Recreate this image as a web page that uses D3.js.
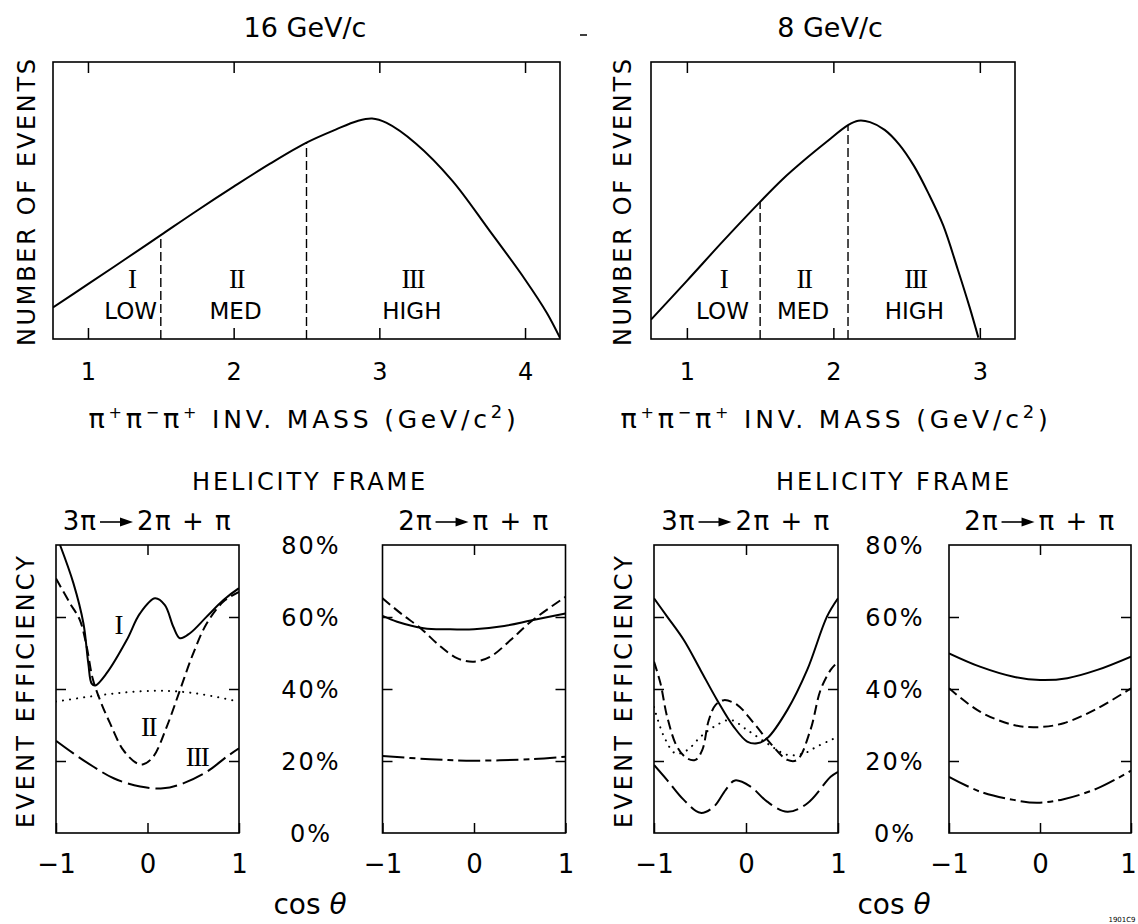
<!DOCTYPE html>
<html>
<head>
<meta charset="utf-8">
<script src="https://cdn.jsdelivr.net/npm/d3@7"></script>
<style>
  body { margin: 0; background: #fff; }
  svg text { font-family: "DejaVu Sans", "Liberation Sans", sans-serif; fill: #000; }
  .axis text { font-size: 24px; }
  .axis line { stroke: #000; stroke-width: 1.5; }
  .roman { font-family: "Liberation Serif", "DejaVu Serif", serif; font-size: 27px; letter-spacing: -1.5px; }
  .frame { fill: none; stroke: #000; stroke-width: 1.6; }
  .curve { fill: none; stroke: #000; stroke-width: 2; }
</style>
</head>
<body>
<svg id="fig" width="1138" height="924"></svg>
<script>
// ---------- top row: pi+ pi- pi+ invariant mass spectra (arbitrary units)
const massTicks16 = [1, 2, 3, 4];
const massTicks8 = [1, 2, 3];
const mass16   = [0.76, 1.0, 1.25, 1.5, 1.75, 2.0, 2.25, 2.5, 2.7, 2.85, 2.95, 3.05, 3.25, 3.5, 3.75, 4.0, 4.15, 4.24];
const events16 = [11.4, 19.8, 28.6, 37.5, 46.4, 55, 63.3, 70.9, 75.6, 78.7, 79.6, 78, 70.6, 57.2, 39.6, 21.5, 9.4, 0.4];
const mass8    = [0.755, 1.0, 1.25, 1.5, 1.65, 1.8, 1.95, 2.1, 2.17, 2.25, 2.35, 2.45, 2.55, 2.65, 2.75, 2.85, 2.93, 2.99];
const events8  = [7, 21, 35.5, 49.5, 57.5, 64.5, 71, 77.2, 78.8, 78.3, 75.5, 70.2, 62.5, 52.5, 41, 25, 11.5, 0.5];
const cuts16 = [1.5, 2.5];
const cuts8 = [1.5, 2.1];
const regionNumerals = ['I', 'II', 'III'];
const regionNames = ['LOW', 'MED', 'HIGH'];
const regionAt16 = [1.30, 2.02, 3.23];
const regionAt8 = [1.25, 1.80, 2.56];

// ---------- bottom row: event efficiency (%) vs cos theta, helicity frame
const effTicks = [0, 20, 40, 60, 80];
const cosTicks = [-1, 0, 1];

// 16 GeV/c, 3pi -> 2pi + pi
const e16a_I_x   = [-0.956, -0.81, -0.70, -0.647, -0.61, -0.57, -0.446, -0.227, -0.082, 0.082, 0.19, 0.282, 0.355, 0.464, 0.647, 0.83, 1.0];
const e16a_I_y   = [80, 69.4, 58.2, 47.1, 41.5, 41, 44.4, 53.6, 61, 65.2, 63.3, 57.3, 54.1, 55.5, 60.1, 64.7, 68];
const e16a_II_x  = [-1, -0.847, -0.74, -0.665, -0.6, -0.52, -0.41, -0.264, -0.118, -0.046, 0.063, 0.21, 0.355, 0.5, 0.647, 0.83, 1.0];
const e16a_II_y  = [70.7, 63.8, 59.2, 51.8, 43, 37, 30.5, 23, 19.4, 19.1, 21.2, 29.5, 39.7, 49.9, 58.2, 64.3, 67];
const e16a_all_x = [-1, -0.63, -0.27, 0.1, 0.39, 0.647, 1.0];
const e16a_all_y = [36.5, 37.9, 39, 39.5, 39.2, 38.3, 36.5];
const e16a_III_x = [-1, -0.81, -0.59, -0.37, -0.08, 0.17, 0.39, 0.647, 0.866, 1.0];
const e16a_III_y = [25.6, 22.1, 18.4, 15.2, 12.9, 12.4, 13.8, 17, 21.2, 23.5];

// 16 GeV/c, 2pi -> pi + pi
const e16b_I_x   = [-1, -0.84, -0.55, -0.29, 0, 0.33, 0.62, 1];
const e16b_I_y   = [60.3, 58.7, 56.9, 56.6, 56.6, 57.5, 59, 61];
const e16b_II_x  = [-1, -0.80, -0.585, -0.366, -0.18, 0, 0.18, 0.40, 0.62, 1];
const e16b_II_y  = [65.2, 61, 56.9, 51.8, 48.5, 47.6, 49, 53.6, 58.7, 65.6];
const e16b_III_x = [-1, -0.48, 0, 0.62, 1];
const e16b_III_y = [21.4, 20.5, 20.1, 20.5, 21.2];

// 8 GeV/c, 3pi -> 2pi + pi
const e8a_I_x   = [-1, -0.857, -0.676, -0.495, -0.313, -0.133, 0.013, 0.12, 0.23, 0.45, 0.665, 0.88, 1];
const e8a_I_y   = [65.2, 60.1, 53.6, 45.3, 36.9, 29.5, 25.4, 24.9, 26.3, 34.2, 45.3, 60.1, 65.2];
const e8a_II_x  = [-1, -0.93, -0.857, -0.75, -0.64, -0.55, -0.476, -0.404, -0.33, -0.24, -0.096, 0.085, 0.266, 0.45, 0.556, 0.70, 0.81, 0.92, 1];
const e8a_II_y  = [47.6, 41.6, 32.3, 24, 20.7, 20.3, 23, 31.4, 35.6, 36.9, 35.6, 30.5, 24.9, 20.3, 20.3, 28.6, 39.7, 45.3, 47.6];
const e8a_all_x = [-1, -0.89, -0.766, -0.64, -0.495, -0.35, -0.168, 0.013, 0.23, 0.45, 0.63, 0.77, 0.92, 1];
const e8a_all_y = [35, 26.7, 22.1, 23, 26.7, 29.5, 31.4, 28.6, 24.9, 21.7, 22.1, 24, 25.8, 26.7];
const e8a_III_x = [-1, -0.857, -0.676, -0.495, -0.35, -0.22, -0.12, 0.05, 0.23, 0.45, 0.665, 0.92, 1];
const e8a_III_y = [18.9, 14.7, 9.2, 5.6, 7.3, 12, 14.6, 12.9, 8.7, 5.9, 8.2, 15.6, 17];

// 8 GeV/c, 2pi -> pi + pi
const e8b_I_x   = [-1, -0.66, -0.29, 0, 0.3, 0.63, 1];
const e8b_I_y   = [49.9, 46.2, 43.4, 42.5, 43, 45.3, 49];
const e8b_II_x  = [-1, -0.66, -0.29, -0.03, 0.26, 0.63, 1];
const e8b_II_y  = [40.2, 33.7, 30, 29.4, 30.5, 34.6, 40.2];
const e8b_III_x = [-1, -0.66, -0.29, -0.03, 0.26, 0.63, 1];
const e8b_III_y = [15.6, 11.5, 9.2, 8.4, 9.4, 12.4, 17.3];

// line styles
const SOLID = null;
const DASHED = '10,5';
const DOTTED = '0.1,7';
const LONGDASH = '22,6';
const DASHDOT = '22,5,6,5';

const svg = d3.select('#fig');
let clipCount = 0;

// spread letters so a text occupies a given width
function fitWidth(sel, width) {
  var node = sel.node();
  var len = node.getComputedTextLength();
  var n = node.getNumberOfChars();
  sel.attr('letter-spacing', (width - len) / n);
}

function clipRect(x, y, w, h) {
  var id = 'clip' + (clipCount++);
  svg.append('clipPath').attr('id', id)
    .append('rect').attr('x', x).attr('y', y).attr('width', w).attr('height', h);
  return 'url(#' + id + ')';
}

function verticalLabel(cx, cy, length, size, txt) {
  svg.append('text')
    .attr('transform', 'translate(' + cx + ',' + cy + ') rotate(-90)')
    .attr('text-anchor', 'middle')
    .attr('dy', '0.36em')
    .style('font-size', size + 'px')
    .attr('textLength', length)
    .attr('lengthAdjust', 'spacing')
    .text(txt);
}

/**
 * Mass spectrum panel
 */
function massPanel(p) {
  var x = d3.scaleLinear().domain(p.domain).range([p.left, p.left + p.width]);
  var y = d3.scaleLinear().domain([0, 100]).range([p.top + p.height, p.top]);
  var bottom = p.top + p.height;
  var g = svg.append('g');

  g.append('text')
    .attr('x', p.titleX).attr('y', 37)
    .attr('text-anchor', 'middle')
    .style('font-size', '27px')
    .text(p.title);

  g.append('g').attr('class', 'axis')
    .attr('transform', 'translate(0,' + bottom + ')')
    .call(d3.axisBottom(x).tickValues(p.ticks).tickSizeInner(-11).tickSizeOuter(0)
      .tickPadding(24).tickFormat(d3.format('d')));
  g.append('g').attr('class', 'axis')
    .attr('transform', 'translate(0,' + p.top + ')')
    .call(d3.axisTop(x).tickValues(p.ticks).tickSizeInner(-11).tickSizeOuter(0).tickFormat(''));
  g.selectAll('.domain').remove();

  g.append('rect').attr('class', 'frame')
    .attr('x', p.left).attr('y', p.top).attr('width', p.width).attr('height', p.height);

  var line = d3.line()
    .x(function (d, i) { return x(p.mass[i]); })
    .y(function (d, i) { return y(p.events[i]); })
    .curve(d3.curveCatmullRom.alpha(0.5));

  g.append('path').attr('class', 'curve')
    .attr('clip-path', clipRect(p.left, p.top, p.width, p.height + 2))
    .attr('d', line(p.mass));

  // region boundaries, drawn up to the spectrum
  var curveAt = d3.scaleLinear().domain(p.mass).range(p.events);
  g.selectAll('line.cut')
    .data(p.cuts)
    .enter()
    .append('line')
    .attr('class', 'cut')
    .attr('x1', function (d) { return x(d); })
    .attr('x2', function (d) { return x(d); })
    .attr('y1', y(0))
    .attr('y2', function (d) { return y(curveAt(d)); })
    .attr('stroke', '#000')
    .attr('stroke-width', 1.4)
    .attr('stroke-dasharray', '9,4');

  g.selectAll('text.num')
    .data(regionNumerals)
    .enter()
    .append('text')
    .attr('class', 'roman')
    .attr('x', function (d, i) { return x(p.regionAt[i]); })
    .attr('y', bottom - 51)
    .attr('text-anchor', 'middle')
    .text(function (d) { return d; });

  g.selectAll('text.region')
    .data(regionNames)
    .enter()
    .append('text')
    .attr('x', function (d, i) { return x(p.regionAt[i]) - 1; })
    .attr('y', bottom - 20)
    .attr('text-anchor', 'middle')
    .style('font-size', '23px')
    .text(function (d) { return d; });

  verticalLabel(p.yLabelX, p.top + p.height / 2 + 2, 287, 24, 'NUMBER OF EVENTS');

  // pi+ pi- pi+ INV. MASS (GeV/c^2)
  var lab = g.append('text')
    .attr('x', p.labelX).attr('y', 428)
    .attr('text-anchor', 'middle')
    .style('font-size', '25px');
  var parts = [
    ['π', 0, 27], ['+', -10, 16], ['π', 10, 27], ['−', -10, 16], ['π', 10, 27], ['+', -10, 16],
    [' INV. MASS (GeV/c', 10, 25], ['2', -10, 18], [')', 10, 25]
  ];
  parts.forEach(function (pt) {
    lab.append('tspan').attr('dy', pt[1]).style('font-size', pt[2] + 'px').text(pt[0]);
  });
  fitWidth(lab, 431);
}

/**
 * Efficiency panel
 */
function effPanel(p) {
  var top = 545, bottom = 833;
  var x = d3.scaleLinear().domain([-1, 1]).range([p.left, p.left + p.width]);
  var y = d3.scaleLinear().domain([0, 80]).range([bottom, top]);
  var g = svg.append('g');

  g.append('g').attr('class', 'axis')
    .attr('transform', 'translate(0,' + bottom + ')')
    .call(d3.axisBottom(x).tickValues(cosTicks).tickSizeInner(-10).tickSizeOuter(0)
      .tickPadding(22).tickFormat(function (d) { return d < 0 ? '−1' : d; }))
    .selectAll('text')
    .style('font-size', '26px')
    .attr('dx', function (d) { return d === 1 ? (p.lastDx || 0) : 0; });
  g.append('g').attr('class', 'axis')
    .attr('transform', 'translate(0,' + top + ')')
    .call(d3.axisTop(x).tickValues([0]).tickSizeInner(-10).tickSizeOuter(0).tickFormat(''));
  g.append('g').attr('class', 'axis')
    .attr('transform', 'translate(' + p.left + ',0)')
    .call(d3.axisLeft(y).tickValues([20, 40, 60]).tickSizeInner(-10).tickSizeOuter(0).tickFormat(''));
  g.append('g').attr('class', 'axis')
    .attr('transform', 'translate(' + (p.left + p.width) + ',0)')
    .call(d3.axisRight(y).tickValues([20, 40, 60]).tickSizeInner(-10).tickSizeOuter(0).tickFormat(''));
  g.selectAll('.domain').remove();

  g.append('rect').attr('class', 'frame')
    .attr('x', p.left).attr('y', top).attr('width', p.width).attr('height', bottom - top);

  var clip = clipRect(p.left, top, p.width, bottom - top);
  p.series.forEach(function (s) {
    var line = d3.line()
      .x(function (d, i) { return x(s.x[i]); })
      .y(function (d, i) { return y(s.y[i]); })
      .curve(d3.curveCatmullRom.alpha(0.5));
    g.append('path').attr('class', 'curve')
      .attr('clip-path', clip)
      .attr('d', line(s.x))
      .attr('stroke-dasharray', s.dash)
      .attr('stroke-linecap', s.dash === DOTTED ? 'round' : 'butt')
      .attr('stroke-width', s.dash === DOTTED ? 3.8 : 2);
  });

  (p.labels || []).forEach(function (l) {
    g.append('text').attr('class', 'roman')
      .attr('x', x(l.at[0])).attr('y', y(l.at[1]))
      .attr('dy', '0.35em')
      .attr('text-anchor', 'middle')
      .text(l.text);
  });

  decayTitle(p.left + p.width / 2, 530, p.before, p.after);
}

// "3pi --> 2pi + pi" with a drawn arrow
function decayTitle(cx, baseline, before, after) {
  var g = svg.append('g');
  var t1 = g.append('text').attr('y', baseline).style('font-size', '26px').attr('letter-spacing', 1).text(before);
  var w1 = t1.node().getComputedTextLength();
  var ax = w1 + 3, ay = baseline - 8, shaft = 20, head = 13;
  g.append('line')
    .attr('x1', ax).attr('x2', ax + shaft + 2)
    .attr('y1', ay).attr('y2', ay)
    .attr('stroke', '#000').attr('stroke-width', 1.6);
  g.append('path')
    .attr('d', 'M' + (ax + shaft) + ',' + (ay - 4.5) + 'L' + (ax + shaft + head) + ',' + ay + 'L' + (ax + shaft) + ',' + (ay + 4.5) + 'Z')
    .attr('fill', '#000');
  var t2 = g.append('text').attr('x', ax + shaft + head + 4).attr('y', baseline)
    .style('font-size', '26px').attr('letter-spacing', 1.5).text(after);
  var total = ax + shaft + head + 4 + t2.node().getComputedTextLength();
  g.attr('transform', 'translate(' + (cx - total / 2) + ',0)');
}

function pctLabels(cx) {
  var y = d3.scaleLinear().domain([0, 80]).range([833, 545]);
  svg.append('g')
    .selectAll('text')
    .data(effTicks)
    .enter()
    .append('text')
    .attr('x', cx)
    .attr('y', function (d) { return y(d); })
    .attr('dy', '0.36em')
    .attr('text-anchor', 'middle')
    .attr('letter-spacing', 2)
    .style('font-size', '24px')
    .text(function (d) { return d + '%'; });
}

function helicityBlock(cx, yLabelX) {
  var t = svg.append('text')
    .attr('x', cx).attr('y', 490)
    .attr('text-anchor', 'middle')
    .style('font-size', '24px')
    .text('HELICITY FRAME');
  fitWidth(t, 236);
  pctLabels(cx + 1);
  verticalLabel(yLabelX, 692, 272, 24, 'EVENT EFFICIENCY');
  var c = svg.append('text')
    .attr('x', cx).attr('y', 914)
    .attr('text-anchor', 'middle')
    .style('font-size', '28px');
  c.append('tspan').text('cos ');
  c.append('tspan').style('font-style', 'italic').text('θ');
}

// ---------- draw
massPanel({
  left: 53, top: 62, width: 507, height: 277,
  domain: [0.76, 4.24], ticks: massTicks16,
  mass: mass16, events: events16, cuts: cuts16, regionAt: regionAt16,
  title: '16 GeV/c', titleX: 305, labelX: 304, yLabelX: 26
});
massPanel({
  left: 651, top: 62, width: 364, height: 277,
  domain: [0.755, 3.24], ticks: massTicks8,
  mass: mass8, events: events8, cuts: cuts8, regionAt: regionAt8,
  title: '8 GeV/c', titleX: 830, labelX: 836, yLabelX: 622
});

helicityBlock(310, 25);
helicityBlock(894, 623);

effPanel({
  left: 56, width: 183, before: '3π', after: '2π + π',
  series: [
    { x: e16a_I_x, y: e16a_I_y, dash: SOLID },
    { x: e16a_II_x, y: e16a_II_y, dash: DASHED },
    { x: e16a_all_x, y: e16a_all_y, dash: DOTTED },
    { x: e16a_III_x, y: e16a_III_y, dash: LONGDASH }
  ],
  labels: [
    { text: 'I', at: [-0.32, 57.8] },
    { text: 'II', at: [0.01, 29.5] },
    { text: 'III', at: [0.54, 21.2] }
  ]
});
effPanel({
  left: 382.5, width: 183, before: '2π', after: 'π + π',
  series: [
    { x: e16b_I_x, y: e16b_I_y, dash: SOLID },
    { x: e16b_II_x, y: e16b_II_y, dash: DASHED },
    { x: e16b_III_x, y: e16b_III_y, dash: DASHDOT }
  ]
});
effPanel({
  left: 654, width: 184, before: '3π', after: '2π + π',
  series: [
    { x: e8a_I_x, y: e8a_I_y, dash: SOLID },
    { x: e8a_II_x, y: e8a_II_y, dash: DASHED },
    { x: e8a_all_x, y: e8a_all_y, dash: DOTTED },
    { x: e8a_III_x, y: e8a_III_y, dash: LONGDASH }
  ]
});
effPanel({
  left: 949, width: 182, before: '2π', after: 'π + π', lastDx: -3,
  series: [
    { x: e8b_I_x, y: e8b_I_y, dash: SOLID },
    { x: e8b_II_x, y: e8b_II_y, dash: DASHED },
    { x: e8b_III_x, y: e8b_III_y, dash: DASHDOT }
  ]
});

// small marks on the original sheet
svg.append('line').attr('x1', 580).attr('x2', 587).attr('y1', 35).attr('y2', 35)
  .attr('stroke', '#000').attr('stroke-width', 1.5);
svg.append('text').attr('x', 1122).attr('y', 922).attr('text-anchor', 'middle')
  .style('font-size', '7px').text('1901C9');
</script>
</body>
</html>
